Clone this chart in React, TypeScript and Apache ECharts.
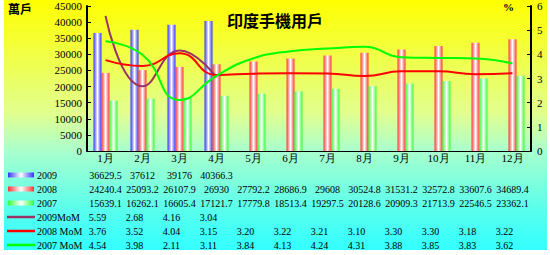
import React, { useEffect, useRef } from "react";
import * as echarts from "echarts";

const months = ["1月", "2月", "3月", "4月", "5月", "6月", "7月", "8月", "9月", "10月", "11月", "12月"];
const users2009 = [36629.5, 37612, 39176, 40366.3];
const users2008 = [24240.4, 25093.2, 26107.9, 26930, 27792.2, 28686.9, 29608, 30524.8, 31531.2, 32572.8, 33607.6, 34689.4];
const users2007 = [15639.1, 16262.1, 16605.4, 17121.7, 17779.8, 18513.4, 19297.5, 20128.6, 20909.3, 21713.9, 22546.5, 23362.1];
const mom2009 = [5.59, 2.68, 4.16, 3.04];
const mom2008 = [3.76, 3.52, 4.04, 3.15, 3.2, 3.22, 3.21, 3.1, 3.3, 3.3, 3.18, 3.22];
const mom2007 = [4.54, 3.98, 2.11, 3.11, 3.84, 4.13, 4.24, 4.31, 3.88, 3.85, 3.83, 3.62];
const leftMin = 0;
const leftMax = 45000;
const leftInterval = 5000;
const rightMin = 0;
const rightMax = 6;
const rightInterval = 1;

const SERIF = "'Liberation Serif', 'Times New Roman', serif";
const CJK = "'Noto Sans CJK TC', 'Noto Sans CJK SC', sans-serif";

function barGrad(c: string) {
  return new echarts.graphic.LinearGradient(0, 0, 1, 0, [
    { offset: 0, color: c },
    { offset: 0.5, color: "#ffffff" },
    { offset: 1, color: c },
  ]);
}

export default function App() {
  const ref = useRef<HTMLDivElement>(null);
  useEffect(() => {
    if (!ref.current) return;
    const chart = echarts.init(ref.current, null, { renderer: "svg" });
    const blue = "#3333ff";
    const red = "#ff3333";
    const green = "#33ff33";
    const bgGrad = new echarts.graphic.LinearGradient(0, 0, 0, 1, [
      { offset: 0, color: "#ffff00" },
      { offset: 0.45, color: "#e2ff8e" },
      { offset: 0.6, color: "#aaffcc" },
      { offset: 0.85, color: "#55ffee" },
      { offset: 1, color: "#33ffff" },
    ]);
    const option: any = {
      animation: false,
      backgroundColor: "#ffffff",
      title: {
        text: "印度手機用戶",
        left: "center",
        top: 7,
        textStyle: { fontFamily: CJK, fontWeight: "bold", fontSize: 16, color: "#000" },
      },
      grid: { left: 87, right: 19, top: 6, bottom: 104, containLabel: false },
      xAxis: {
        type: "category",
        data: months,
        axisLine: { lineStyle: { color: "#000", width: 1 } },
        axisTick: { show: false },
        axisLabel: { margin: 1, fontFamily: SERIF, fontSize: 11, color: "#000" },
      },
      yAxis: [
        {
          type: "value",
          min: leftMin,
          max: leftMax,
          interval: leftInterval,
          splitLine: { show: false },
          axisLine: { show: true, lineStyle: { color: "#000", width: 2 } },
          axisTick: { show: true, inside: true, length: 4, lineStyle: { color: "#000" } },
          axisLabel: { margin: 5, fontFamily: SERIF, fontSize: 11, color: "#000", formatter: (v: number) => String(v) },
        },
        {
          type: "value",
          min: rightMin,
          max: rightMax,
          interval: rightInterval,
          splitLine: { show: false },
          axisLine: { show: true, lineStyle: { color: "#000", width: 2 } },
          axisTick: { show: true, inside: true, length: 4, lineStyle: { color: "#000" } },
          axisLabel: { margin: 6, fontFamily: SERIF, fontSize: 11, color: "#000" },
        },
      ],
      series: [
        { name: "2009", type: "bar", data: users2009, barWidth: 8, barGap: "0%", itemStyle: { color: barGrad(blue) } },
        { name: "2008", type: "bar", data: users2008, barWidth: 8, barGap: "0%", itemStyle: { color: barGrad(red) } },
        { name: "2007", type: "bar", data: users2007, barWidth: 8, barGap: "0%", itemStyle: { color: barGrad(green) } },
        { name: "2009MoM", type: "line", yAxisIndex: 1, data: mom2009, smooth: 0.5, showSymbol: false, lineStyle: { color: "#993366", width: 2 }, z: 5 },
        { name: "2008 MoM", type: "line", yAxisIndex: 1, data: mom2008, smooth: 0.5, showSymbol: false, lineStyle: { color: "#ff0000", width: 2 }, z: 5 },
        { name: "2007 MoM", type: "line", yAxisIndex: 1, data: mom2007, smooth: 0.5, showSymbol: false, lineStyle: { color: "#00ff00", width: 2 }, z: 5 },
      ],
    };
    chart.setOption(option);

    const catX = months.map((m, i) => chart.convertToPixel({ xAxisIndex: 0 }, i) as number);
    const rows = [
      { label: "2009", kind: "bar", color: blue, values: users2009.map((v) => String(v)), dx: 0 },
      { label: "2008", kind: "bar", color: red, values: users2008.map((v) => String(v)), dx: 0 },
      { label: "2007", kind: "bar", color: green, values: users2007.map((v) => String(v)), dx: 0 },
      { label: "2009MoM", kind: "line", color: "#993366", values: mom2009.map((v) => v.toFixed(2)), dx: -8 },
      { label: "2008 MoM", kind: "line", color: "#ff0000", values: mom2008.map((v) => v.toFixed(2)), dx: -8 },
      { label: "2007 MoM", kind: "line", color: "#00ff00", values: mom2007.map((v) => v.toFixed(2)), dx: -8 },
    ];
    const rowY0 = 175;
    const rowStep = 14;
    const elements: any[] = [
      {
        type: "rect",
        z: -10,
        silent: true,
        shape: { x: 4, y: 0, width: 543, height: 250 },
        style: { fill: bgGrad },
      },
      {
        type: "text",
        x: 8,
        y: 8,
        style: { text: "萬戶", font: `bold 12px ${CJK}`, fill: "#000", verticalAlign: "middle" },
      },
      {
        type: "text",
        x: 503,
        y: 7,
        style: { text: "%", font: `bold 11px ${SERIF}`, fill: "#000", verticalAlign: "middle" },
      },
    ];
    rows.forEach((r, ri) => {
      const y = rowY0 + ri * rowStep;
      if (r.kind === "bar") {
        elements.push({
          type: "rect",
          shape: { x: 8, y: y - 2.5, width: 26, height: 5 },
          style: {
            fill: new echarts.graphic.LinearGradient(0, 0, 1, 0, [
              { offset: 0, color: r.color },
              { offset: 0.5, color: "#ffffff" },
              { offset: 1, color: r.color },
            ]),
          },
        });
      } else {
        elements.push({
          type: "line",
          shape: { x1: 7, y1: y, x2: 35, y2: y },
          style: { stroke: r.color, lineWidth: 2.5 },
        });
      }
      elements.push({
        type: "text",
        x: 37,
        y: y,
        style: { text: r.label, font: `10px ${SERIF}`, fill: "#000", verticalAlign: "middle" },
      });
      r.values.forEach((t, ci) => {
        elements.push({
          type: "text",
          x: catX[ci] + r.dx,
          y: y,
          style: { text: t, font: `10px ${SERIF}`, fill: "#000", align: "center", verticalAlign: "middle" },
        });
      });
    });
    chart.setOption({ graphic: { elements } });
    return () => chart.dispose();
  }, []);
  return <div ref={ref} style={{ position: "fixed", left: 0, top: 0, width: 550, height: 255 }} />;
}
